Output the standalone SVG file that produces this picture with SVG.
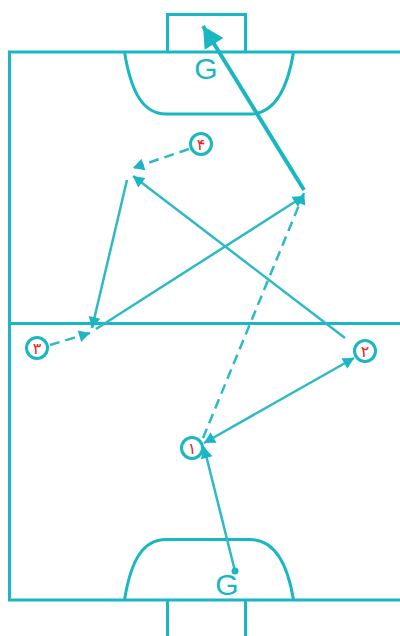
<svg xmlns="http://www.w3.org/2000/svg" width="400" height="636" viewBox="0 0 400 636">
<style>
.f{fill:none;stroke:#1ab6c3;stroke-width:3}
.c{fill:none;stroke:#2dbac6;stroke-width:2.500}
.d{stroke-dasharray:10 6}
.n{fill:#fff;stroke:#1ab6c3;stroke-width:3}
.t{font-family:"DejaVu Sans",sans-serif;font-size:16px;fill:#e8202e;text-anchor:middle}
.g{font-family:"Liberation Sans",Arial,sans-serif;font-size:30px;fill:#1ab6c3;text-anchor:middle}
</style>
<defs>
<marker id="a" markerUnits="userSpaceOnUse" markerWidth="14" markerHeight="14" refX="12" refY="7" orient="auto-start-reverse"><path d="M1 1L12 7L1 13Z" fill="#1ab6c3"/></marker>
<marker id="b" markerUnits="userSpaceOnUse" markerWidth="24" markerHeight="24" refX="22" refY="12" orient="auto"><path d="M1 1L22 12L1 23Z" fill="#1ab6c3"/></marker>
</defs>
<rect width="400" height="636" fill="#fff"/>
<g id="field">
<path class="f" d="M400 52H9.500V600H400M9.500 323.500H400"/>
<path class="f" d="M167.500 52V14.500H245.500V52M167.500 600V636M245.500 600V636"/>
<path class="f" d="M124.500 52C131 92 143 114 166 114H250C273 114 287 92 293.500 52"/>
<path class="f" d="M124.500 600C131 560 143 539.500 166 539.500H250C273 539.500 287 560 293.500 600"/>
<text class="g" x="206" y="79">G</text>
<text class="g" x="227" y="595">G</text>
</g>
<g id="connectors">
<path fill="none" stroke="#1ab6c3" stroke-width="4" marker-end="url(#b)" d="M304 190L203 26"/>
<path class="c d" marker-end="url(#a)" d="M189 149L133 168"/>
<path class="c" marker-end="url(#a)" d="M127 180L92 328"/>
<path class="c" marker-end="url(#a)" d="M345 338L133 176"/>
<path class="c d" marker-end="url(#a)" d="M50 345L90 333"/>
<path class="c" marker-end="url(#a)" d="M96 329L304 196"/>
<path class="c d" marker-end="url(#a)" d="M203 438L304 193"/>
<path class="c" marker-start="url(#a)" marker-end="url(#a)" d="M204 443L354 358"/>
<path class="c" marker-end="url(#a)" d="M235 571L204 447"/>
<circle cx="235" cy="571" r="3.500" fill="#1ab6c3"/>
</g>
<g id="n1"><circle class="n" cx="192" cy="448" r="10.500"/><text class="t" x="192" y="454">۱</text></g>
<g id="n2"><circle class="n" cx="365" cy="351" r="10.500"/><text class="t" x="365" y="357">۲</text></g>
<g id="n3"><circle class="n" cx="37" cy="348" r="10.500"/><text class="t" x="37" y="354">۳</text></g>
<g id="n4"><circle class="n" cx="201" cy="144" r="10.500"/><text class="t" x="201" y="150">۴</text></g>
</svg>
